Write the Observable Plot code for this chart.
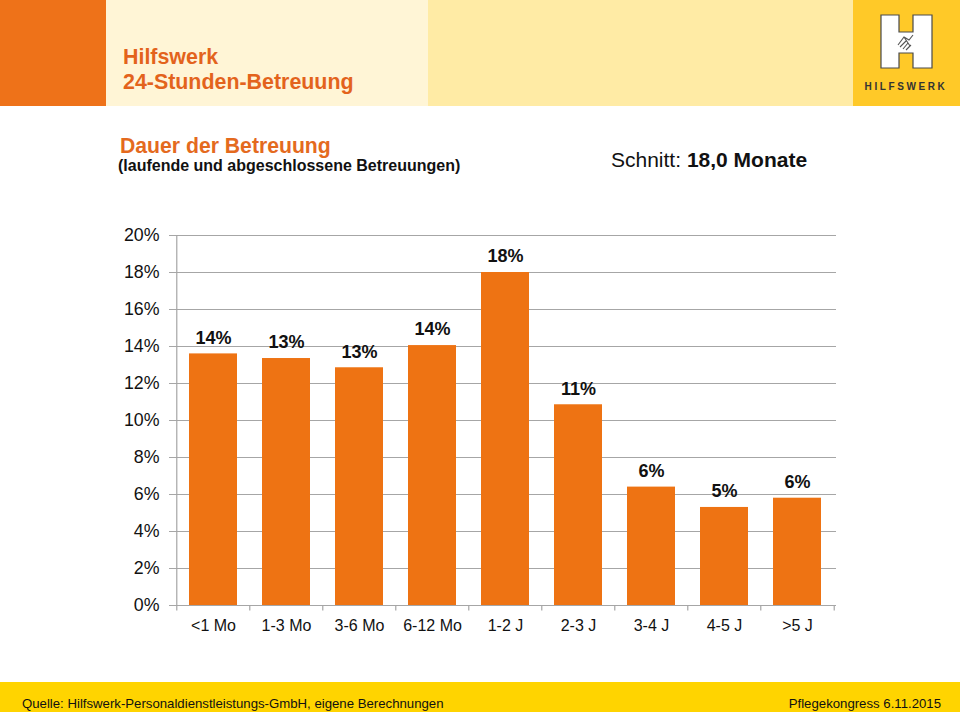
<!DOCTYPE html>
<html>
<head>
<meta charset="utf-8">
<script src="https://cdn.jsdelivr.net/npm/d3@7"></script>
<script src="https://cdn.jsdelivr.net/npm/@observablehq/plot@0.6"></script>
<style>
  html, body { margin: 0; padding: 0; background: #fff; }
  #page { position: relative; width: 960px; height: 712px; overflow: hidden; font-family: "Liberation Sans", Arial, sans-serif; background: #fff; }
  .abs { position: absolute; white-space: nowrap; line-height: normal; }
  .band { position: absolute; top: 0; height: 106px; }
  #chart { position: absolute; left: 0; top: 215px; }
</style>
</head>
<body>
<div id="page">
  <div class="band" style="left:0;width:106px;background:#EE7219"></div>
  <div class="band" style="left:106px;width:322px;background:#FFF5D6"></div>
  <div class="band" style="left:428px;width:425px;background:#FFEBA5"></div>
  <div class="band" style="left:853px;width:107px;background:#FFC928"></div>
  <svg class="abs" style="left:853px;top:0" width="107" height="106" viewBox="853 0 107 106">
    <path d="M881,15 H899 V32 H913 V15 H932 V68 H913 V53 H899 V68 H881 Z" fill="#fff" stroke="#4a4a4a" stroke-width="1.2"/>
    <path d="M898,45 L904,37 L909,40 L913,35 M900,47 L906,41 M903,49 L908,43 M906,50 L911,45 M904,37 L910,46" fill="none" stroke="#555" stroke-width="1.1"/>
    <text x="906" y="90" text-anchor="middle" font-family="Liberation Sans, Arial, sans-serif" font-weight="bold" font-size="10" letter-spacing="2.6" fill="#333">HILFSWERK</text>
  </svg>

  <div class="abs" style="left:123px;top:44.5px;font-size:21.4px;font-weight:bold;color:#E3631C">Hilfswerk</div>
  <div class="abs" style="left:123px;top:69.5px;font-size:21.4px;font-weight:bold;color:#E3631C">24-Stunden-Betreuung</div>

  <div class="abs" style="left:120px;top:133.5px;font-size:21.2px;font-weight:bold;color:#E46A1E">Dauer der Betreuung</div>
  <div class="abs" style="left:118px;top:157px;font-size:16px;font-weight:bold;color:#111">(laufende und abgeschlossene Betreuungen)</div>
  <div class="abs" style="left:611px;top:147.5px;font-size:21px;color:#111">Schnitt: <b>18,0 Monate</b></div>

  <div id="chart"></div>

  <div class="abs" style="left:0;top:682px;width:960px;height:30px;background:#FFD400"></div>
  <div class="abs" style="left:22px;top:696px;font-size:13.2px;color:#111">Quelle: Hilfswerk-Personaldienstleistungs-GmbH, eigene Berechnungen</div>
  <div class="abs" style="right:19px;top:696px;font-size:13.2px;color:#111">Pflegekongress 6.11.2015</div>
</div>
<script>
const categories = ["<1 Mo", "1-3 Mo", "3-6 Mo", "6-12 Mo", "1-2 J", "2-3 J", "3-4 J", "4-5 J", ">5 J"];
const shares = [13.6, 13.35, 12.85, 14.05, 18.0, 10.85, 6.4, 5.3, 5.8];
const valueLabels = ["14%", "13%", "13%", "14%", "18%", "11%", "6%", "5%", "6%"];
const yTicks = [0, 2, 4, 6, 8, 10, 12, 14, 16, 18, 20];

const data = categories.map((c, i) => ({cat: c, share: shares[i], label: valueLabels[i]}));

const W = 960, ML = 175, MR = 124;
const padInner = 0.337;
const step = (W - ML - MR) / categories.length;
const half = step / 2;
const gray = "#A6A6A6";

const chart = Plot.plot({
  width: W,
  height: 425,
  marginLeft: ML,
  marginRight: MR,
  marginTop: 20,
  marginBottom: 35,
  style: {fontFamily: "'Liberation Sans', Arial, sans-serif", fontSize: "16px", color: "#000", background: "transparent", overflow: "visible"},
  x: {domain: categories, paddingInner: padInner, paddingOuter: padInner / 2, axis: null},
  y: {domain: [0, 20], axis: null},
  marks: [
    Plot.gridY(yTicks, {stroke: gray, strokeOpacity: 1, strokeWidth: 1}),
    Plot.barY(data, {x: "cat", y: "share", fill: "#EE7313"}),
    Plot.ruleY([0], {stroke: gray, strokeWidth: 1.2}),
    Plot.ruleX([categories[0]], {x: d => d, dx: -half, y1: 0, y2: 20, stroke: gray, strokeWidth: 1.2}),
    Plot.ruleX(categories, {x: d => d, dx: -half, y1: 0, y2: -0.3, stroke: gray, strokeWidth: 1.2}),
    Plot.ruleX([categories[categories.length - 1]], {x: d => d, dx: half, y1: 0, y2: -0.3, stroke: gray, strokeWidth: 1.2}),
    Plot.axisY(yTicks, {tickSize: 6, tickPadding: 10, tickFormat: d => d + "%", fontSize: 17.8, stroke: gray, fill: "#111", label: null}),
    Plot.axisX({tickSize: 0, tickPadding: 14, fontSize: 16, fill: "#111", label: null}),
    Plot.text(data, {x: "cat", y: "share", text: "label", dy: -16, fontSize: 18, fontWeight: "bold", fill: "#111"})
  ]
});
document.getElementById("chart").appendChild(chart);
</script>
</body>
</html>
